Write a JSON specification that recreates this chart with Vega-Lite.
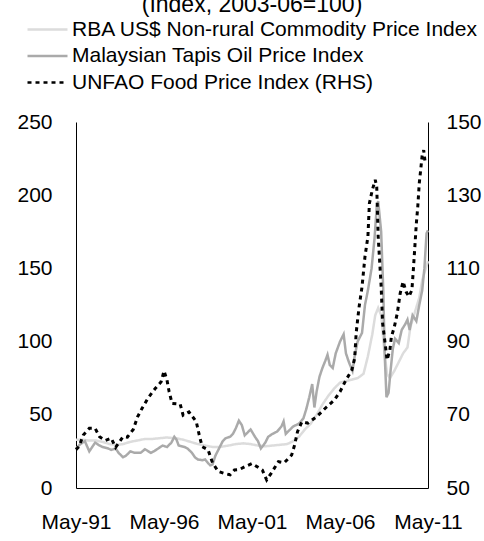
{
  "$schema": "https://vega.github.io/schema/vega-lite/v6.json",
  "width": 352,
  "height": 366,
  "autosize": {"type": "none"},
  "padding": {"left": 76, "top": 122, "right": 56, "bottom": 53},
  "background": "white",
  "title": {
    "text": "(Index, 2003-06=100)",
    "font": "Liberation Sans",
    "fontSize": 23,
    "fontWeight": "normal",
    "color": "black",
    "anchor": "middle",
    "baseline": "alphabetic",
    "offset": 0,
    "dy": 17
  },
  "config": {
    "view": {"stroke": null},
    "font": "Liberation Sans",
    "axis": {
      "labelFont": "Liberation Sans",
      "labelFontSize": 21,
      "labelColor": "black",
      "domainColor": "black",
      "domainWidth": 1,
      "ticks": false,
      "grid": false,
      "title": null
    },
    "legend": {
      "orient": "none",
      "legendX": -40,
      "legendY": -104,
      "padding": 0,
      "labelFont": "Liberation Sans",
      "labelFontSize": 21,
      "labelColor": "black",
      "labelOffset": 13,
      "labelLimit": 0,
      "symbolType": "M-2,0H2",
      "symbolSize": 400,
      "symbolStrokeWidth": 2.5,
      "rowPadding": 4.5,
      "title": null
    }
  },
  "datasets": {
    "left": [
      {"date": "1991-05-01", "series": "RBA US$ Non-rural Commodity Price Index", "value": 33},
      {"date": "1991-09-01", "series": "RBA US$ Non-rural Commodity Price Index", "value": 33},
      {"date": "1992-01-01", "series": "RBA US$ Non-rural Commodity Price Index", "value": 32.5},
      {"date": "1992-06-01", "series": "RBA US$ Non-rural Commodity Price Index", "value": 32.5},
      {"date": "1992-11-01", "series": "RBA US$ Non-rural Commodity Price Index", "value": 31.5},
      {"date": "1993-04-01", "series": "RBA US$ Non-rural Commodity Price Index", "value": 30},
      {"date": "1993-09-01", "series": "RBA US$ Non-rural Commodity Price Index", "value": 29.5},
      {"date": "1994-01-01", "series": "RBA US$ Non-rural Commodity Price Index", "value": 30},
      {"date": "1994-06-01", "series": "RBA US$ Non-rural Commodity Price Index", "value": 31.5},
      {"date": "1994-11-01", "series": "RBA US$ Non-rural Commodity Price Index", "value": 32.5},
      {"date": "1995-04-01", "series": "RBA US$ Non-rural Commodity Price Index", "value": 33.5},
      {"date": "1995-09-01", "series": "RBA US$ Non-rural Commodity Price Index", "value": 33.5},
      {"date": "1996-02-01", "series": "RBA US$ Non-rural Commodity Price Index", "value": 34},
      {"date": "1996-07-01", "series": "RBA US$ Non-rural Commodity Price Index", "value": 34.5},
      {"date": "1997-01-01", "series": "RBA US$ Non-rural Commodity Price Index", "value": 34},
      {"date": "1997-06-01", "series": "RBA US$ Non-rural Commodity Price Index", "value": 33},
      {"date": "1997-11-01", "series": "RBA US$ Non-rural Commodity Price Index", "value": 31.5},
      {"date": "1998-04-01", "series": "RBA US$ Non-rural Commodity Price Index", "value": 30},
      {"date": "1998-09-01", "series": "RBA US$ Non-rural Commodity Price Index", "value": 29},
      {"date": "1999-02-01", "series": "RBA US$ Non-rural Commodity Price Index", "value": 28},
      {"date": "1999-07-01", "series": "RBA US$ Non-rural Commodity Price Index", "value": 28},
      {"date": "2000-01-01", "series": "RBA US$ Non-rural Commodity Price Index", "value": 29},
      {"date": "2000-06-01", "series": "RBA US$ Non-rural Commodity Price Index", "value": 30},
      {"date": "2000-11-01", "series": "RBA US$ Non-rural Commodity Price Index", "value": 30.5},
      {"date": "2001-04-01", "series": "RBA US$ Non-rural Commodity Price Index", "value": 30},
      {"date": "2001-09-01", "series": "RBA US$ Non-rural Commodity Price Index", "value": 29},
      {"date": "2002-02-01", "series": "RBA US$ Non-rural Commodity Price Index", "value": 28.5},
      {"date": "2002-07-01", "series": "RBA US$ Non-rural Commodity Price Index", "value": 29},
      {"date": "2002-12-01", "series": "RBA US$ Non-rural Commodity Price Index", "value": 29.5},
      {"date": "2003-05-01", "series": "RBA US$ Non-rural Commodity Price Index", "value": 30},
      {"date": "2003-09-01", "series": "RBA US$ Non-rural Commodity Price Index", "value": 32},
      {"date": "2004-01-01", "series": "RBA US$ Non-rural Commodity Price Index", "value": 35},
      {"date": "2004-05-01", "series": "RBA US$ Non-rural Commodity Price Index", "value": 40},
      {"date": "2004-09-01", "series": "RBA US$ Non-rural Commodity Price Index", "value": 44},
      {"date": "2005-01-01", "series": "RBA US$ Non-rural Commodity Price Index", "value": 50},
      {"date": "2005-05-01", "series": "RBA US$ Non-rural Commodity Price Index", "value": 57},
      {"date": "2005-09-01", "series": "RBA US$ Non-rural Commodity Price Index", "value": 63},
      {"date": "2006-01-01", "series": "RBA US$ Non-rural Commodity Price Index", "value": 68},
      {"date": "2006-05-01", "series": "RBA US$ Non-rural Commodity Price Index", "value": 72},
      {"date": "2006-09-01", "series": "RBA US$ Non-rural Commodity Price Index", "value": 73},
      {"date": "2007-01-01", "series": "RBA US$ Non-rural Commodity Price Index", "value": 74},
      {"date": "2007-05-01", "series": "RBA US$ Non-rural Commodity Price Index", "value": 75},
      {"date": "2007-09-01", "series": "RBA US$ Non-rural Commodity Price Index", "value": 78},
      {"date": "2007-12-01", "series": "RBA US$ Non-rural Commodity Price Index", "value": 90},
      {"date": "2008-03-01", "series": "RBA US$ Non-rural Commodity Price Index", "value": 105},
      {"date": "2008-05-01", "series": "RBA US$ Non-rural Commodity Price Index", "value": 118},
      {"date": "2008-07-01", "series": "RBA US$ Non-rural Commodity Price Index", "value": 123},
      {"date": "2008-09-01", "series": "RBA US$ Non-rural Commodity Price Index", "value": 118},
      {"date": "2008-11-01", "series": "RBA US$ Non-rural Commodity Price Index", "value": 95},
      {"date": "2009-01-01", "series": "RBA US$ Non-rural Commodity Price Index", "value": 78},
      {"date": "2009-03-01", "series": "RBA US$ Non-rural Commodity Price Index", "value": 75},
      {"date": "2009-06-01", "series": "RBA US$ Non-rural Commodity Price Index", "value": 80},
      {"date": "2009-09-01", "series": "RBA US$ Non-rural Commodity Price Index", "value": 86},
      {"date": "2009-12-01", "series": "RBA US$ Non-rural Commodity Price Index", "value": 92},
      {"date": "2010-03-01", "series": "RBA US$ Non-rural Commodity Price Index", "value": 96},
      {"date": "2010-05-01", "series": "RBA US$ Non-rural Commodity Price Index", "value": 110},
      {"date": "2010-08-01", "series": "RBA US$ Non-rural Commodity Price Index", "value": 120},
      {"date": "2010-11-01", "series": "RBA US$ Non-rural Commodity Price Index", "value": 130},
      {"date": "2011-01-01", "series": "RBA US$ Non-rural Commodity Price Index", "value": 142},
      {"date": "2011-05-01", "series": "RBA US$ Non-rural Commodity Price Index", "value": 155},

      {"date": "1991-05-01", "series": "Malaysian Tapis Oil Price Index", "value": 27},
      {"date": "1991-08-01", "series": "Malaysian Tapis Oil Price Index", "value": 30},
      {"date": "1991-11-01", "series": "Malaysian Tapis Oil Price Index", "value": 32},
      {"date": "1992-02-01", "series": "Malaysian Tapis Oil Price Index", "value": 25},
      {"date": "1992-04-01", "series": "Malaysian Tapis Oil Price Index", "value": 28},
      {"date": "1992-06-01", "series": "Malaysian Tapis Oil Price Index", "value": 31},
      {"date": "1992-09-01", "series": "Malaysian Tapis Oil Price Index", "value": 29},
      {"date": "1992-11-01", "series": "Malaysian Tapis Oil Price Index", "value": 28},
      {"date": "1993-03-01", "series": "Malaysian Tapis Oil Price Index", "value": 27},
      {"date": "1993-05-01", "series": "Malaysian Tapis Oil Price Index", "value": 26},
      {"date": "1993-08-01", "series": "Malaysian Tapis Oil Price Index", "value": 27},
      {"date": "1993-10-01", "series": "Malaysian Tapis Oil Price Index", "value": 24},
      {"date": "1994-01-01", "series": "Malaysian Tapis Oil Price Index", "value": 21},
      {"date": "1994-03-01", "series": "Malaysian Tapis Oil Price Index", "value": 22},
      {"date": "1994-06-01", "series": "Malaysian Tapis Oil Price Index", "value": 25},
      {"date": "1994-09-01", "series": "Malaysian Tapis Oil Price Index", "value": 24},
      {"date": "1995-01-01", "series": "Malaysian Tapis Oil Price Index", "value": 24},
      {"date": "1995-04-01", "series": "Malaysian Tapis Oil Price Index", "value": 26.5},
      {"date": "1995-08-01", "series": "Malaysian Tapis Oil Price Index", "value": 24},
      {"date": "1995-10-01", "series": "Malaysian Tapis Oil Price Index", "value": 25},
      {"date": "1996-01-01", "series": "Malaysian Tapis Oil Price Index", "value": 27},
      {"date": "1996-04-01", "series": "Malaysian Tapis Oil Price Index", "value": 29},
      {"date": "1996-07-01", "series": "Malaysian Tapis Oil Price Index", "value": 28},
      {"date": "1996-10-01", "series": "Malaysian Tapis Oil Price Index", "value": 31},
      {"date": "1996-12-01", "series": "Malaysian Tapis Oil Price Index", "value": 35},
      {"date": "1997-01-15", "series": "Malaysian Tapis Oil Price Index", "value": 33},
      {"date": "1997-03-01", "series": "Malaysian Tapis Oil Price Index", "value": 29},
      {"date": "1997-07-01", "series": "Malaysian Tapis Oil Price Index", "value": 28},
      {"date": "1997-09-01", "series": "Malaysian Tapis Oil Price Index", "value": 27},
      {"date": "1997-12-01", "series": "Malaysian Tapis Oil Price Index", "value": 24},
      {"date": "1998-02-01", "series": "Malaysian Tapis Oil Price Index", "value": 21},
      {"date": "1998-04-01", "series": "Malaysian Tapis Oil Price Index", "value": 19.5},
      {"date": "1998-07-01", "series": "Malaysian Tapis Oil Price Index", "value": 19},
      {"date": "1998-09-01", "series": "Malaysian Tapis Oil Price Index", "value": 19.5},
      {"date": "1998-11-01", "series": "Malaysian Tapis Oil Price Index", "value": 17},
      {"date": "1998-12-15", "series": "Malaysian Tapis Oil Price Index", "value": 15.5},
      {"date": "1999-02-01", "series": "Malaysian Tapis Oil Price Index", "value": 16},
      {"date": "1999-04-01", "series": "Malaysian Tapis Oil Price Index", "value": 22},
      {"date": "1999-06-01", "series": "Malaysian Tapis Oil Price Index", "value": 26},
      {"date": "1999-09-01", "series": "Malaysian Tapis Oil Price Index", "value": 32},
      {"date": "1999-11-01", "series": "Malaysian Tapis Oil Price Index", "value": 34},
      {"date": "2000-02-01", "series": "Malaysian Tapis Oil Price Index", "value": 35},
      {"date": "2000-04-01", "series": "Malaysian Tapis Oil Price Index", "value": 37},
      {"date": "2000-06-01", "series": "Malaysian Tapis Oil Price Index", "value": 41},
      {"date": "2000-08-01", "series": "Malaysian Tapis Oil Price Index", "value": 46},
      {"date": "2000-10-01", "series": "Malaysian Tapis Oil Price Index", "value": 43},
      {"date": "2000-12-01", "series": "Malaysian Tapis Oil Price Index", "value": 36},
      {"date": "2001-02-01", "series": "Malaysian Tapis Oil Price Index", "value": 38},
      {"date": "2001-04-01", "series": "Malaysian Tapis Oil Price Index", "value": 40},
      {"date": "2001-07-01", "series": "Malaysian Tapis Oil Price Index", "value": 35},
      {"date": "2001-09-01", "series": "Malaysian Tapis Oil Price Index", "value": 32},
      {"date": "2001-11-01", "series": "Malaysian Tapis Oil Price Index", "value": 27},
      {"date": "2002-02-01", "series": "Malaysian Tapis Oil Price Index", "value": 31},
      {"date": "2002-04-01", "series": "Malaysian Tapis Oil Price Index", "value": 35},
      {"date": "2002-07-01", "series": "Malaysian Tapis Oil Price Index", "value": 37},
      {"date": "2002-10-01", "series": "Malaysian Tapis Oil Price Index", "value": 38.5},
      {"date": "2003-01-01", "series": "Malaysian Tapis Oil Price Index", "value": 42},
      {"date": "2003-02-15", "series": "Malaysian Tapis Oil Price Index", "value": 45.5},
      {"date": "2003-04-01", "series": "Malaysian Tapis Oil Price Index", "value": 37},
      {"date": "2003-06-01", "series": "Malaysian Tapis Oil Price Index", "value": 39},
      {"date": "2003-09-01", "series": "Malaysian Tapis Oil Price Index", "value": 42},
      {"date": "2004-01-01", "series": "Malaysian Tapis Oil Price Index", "value": 44},
      {"date": "2004-04-01", "series": "Malaysian Tapis Oil Price Index", "value": 47.5},
      {"date": "2004-06-01", "series": "Malaysian Tapis Oil Price Index", "value": 54},
      {"date": "2004-08-01", "series": "Malaysian Tapis Oil Price Index", "value": 62},
      {"date": "2004-10-01", "series": "Malaysian Tapis Oil Price Index", "value": 71},
      {"date": "2004-11-15", "series": "Malaysian Tapis Oil Price Index", "value": 55},
      {"date": "2005-01-01", "series": "Malaysian Tapis Oil Price Index", "value": 66},
      {"date": "2005-03-01", "series": "Malaysian Tapis Oil Price Index", "value": 76},
      {"date": "2005-05-01", "series": "Malaysian Tapis Oil Price Index", "value": 82},
      {"date": "2005-07-01", "series": "Malaysian Tapis Oil Price Index", "value": 87},
      {"date": "2005-08-15", "series": "Malaysian Tapis Oil Price Index", "value": 91},
      {"date": "2005-10-01", "series": "Malaysian Tapis Oil Price Index", "value": 84},
      {"date": "2005-12-01", "series": "Malaysian Tapis Oil Price Index", "value": 82},
      {"date": "2006-02-01", "series": "Malaysian Tapis Oil Price Index", "value": 92},
      {"date": "2006-05-01", "series": "Malaysian Tapis Oil Price Index", "value": 100},
      {"date": "2006-07-15", "series": "Malaysian Tapis Oil Price Index", "value": 105},
      {"date": "2006-09-01", "series": "Malaysian Tapis Oil Price Index", "value": 92},
      {"date": "2006-11-01", "series": "Malaysian Tapis Oil Price Index", "value": 86},
      {"date": "2007-01-15", "series": "Malaysian Tapis Oil Price Index", "value": 80},
      {"date": "2007-03-01", "series": "Malaysian Tapis Oil Price Index", "value": 90},
      {"date": "2007-05-01", "series": "Malaysian Tapis Oil Price Index", "value": 100},
      {"date": "2007-08-01", "series": "Malaysian Tapis Oil Price Index", "value": 106},
      {"date": "2007-10-01", "series": "Malaysian Tapis Oil Price Index", "value": 125},
      {"date": "2007-12-01", "series": "Malaysian Tapis Oil Price Index", "value": 135},
      {"date": "2008-02-15", "series": "Malaysian Tapis Oil Price Index", "value": 150},
      {"date": "2008-04-15", "series": "Malaysian Tapis Oil Price Index", "value": 170},
      {"date": "2008-06-01", "series": "Malaysian Tapis Oil Price Index", "value": 192},
      {"date": "2008-07-01", "series": "Malaysian Tapis Oil Price Index", "value": 196},
      {"date": "2008-09-01", "series": "Malaysian Tapis Oil Price Index", "value": 175},
      {"date": "2008-10-15", "series": "Malaysian Tapis Oil Price Index", "value": 135},
      {"date": "2008-11-15", "series": "Malaysian Tapis Oil Price Index", "value": 90},
      {"date": "2008-12-20", "series": "Malaysian Tapis Oil Price Index", "value": 62},
      {"date": "2009-02-01", "series": "Malaysian Tapis Oil Price Index", "value": 65},
      {"date": "2009-03-15", "series": "Malaysian Tapis Oil Price Index", "value": 80},
      {"date": "2009-05-01", "series": "Malaysian Tapis Oil Price Index", "value": 95},
      {"date": "2009-06-15", "series": "Malaysian Tapis Oil Price Index", "value": 102},
      {"date": "2009-09-01", "series": "Malaysian Tapis Oil Price Index", "value": 99},
      {"date": "2009-11-01", "series": "Malaysian Tapis Oil Price Index", "value": 108},
      {"date": "2010-01-15", "series": "Malaysian Tapis Oil Price Index", "value": 112},
      {"date": "2010-03-01", "series": "Malaysian Tapis Oil Price Index", "value": 115},
      {"date": "2010-04-15", "series": "Malaysian Tapis Oil Price Index", "value": 108},
      {"date": "2010-06-15", "series": "Malaysian Tapis Oil Price Index", "value": 118},
      {"date": "2010-09-01", "series": "Malaysian Tapis Oil Price Index", "value": 114},
      {"date": "2010-11-01", "series": "Malaysian Tapis Oil Price Index", "value": 125},
      {"date": "2011-01-01", "series": "Malaysian Tapis Oil Price Index", "value": 135},
      {"date": "2011-02-15", "series": "Malaysian Tapis Oil Price Index", "value": 150},
      {"date": "2011-04-01", "series": "Malaysian Tapis Oil Price Index", "value": 174},
      {"date": "2011-05-01", "series": "Malaysian Tapis Oil Price Index", "value": 176}
    ],
    "right": [
      {"date": "1991-05-01", "series": "UNFAO Food Price Index (RHS)", "value": 60.5},
      {"date": "1991-07-01", "series": "UNFAO Food Price Index (RHS)", "value": 61.3},
      {"date": "1991-10-01", "series": "UNFAO Food Price Index (RHS)", "value": 64.5},
      {"date": "1992-02-01", "series": "UNFAO Food Price Index (RHS)", "value": 66.3},
      {"date": "1992-06-01", "series": "UNFAO Food Price Index (RHS)", "value": 66.3},
      {"date": "1992-09-01", "series": "UNFAO Food Price Index (RHS)", "value": 64},
      {"date": "1993-01-01", "series": "UNFAO Food Price Index (RHS)", "value": 63},
      {"date": "1993-05-01", "series": "UNFAO Food Price Index (RHS)", "value": 63.6},
      {"date": "1993-08-01", "series": "UNFAO Food Price Index (RHS)", "value": 61.1},
      {"date": "1994-01-01", "series": "UNFAO Food Price Index (RHS)", "value": 64},
      {"date": "1994-04-01", "series": "UNFAO Food Price Index (RHS)", "value": 63.9},
      {"date": "1994-08-01", "series": "UNFAO Food Price Index (RHS)", "value": 66},
      {"date": "1994-11-01", "series": "UNFAO Food Price Index (RHS)", "value": 69.5},
      {"date": "1995-02-01", "series": "UNFAO Food Price Index (RHS)", "value": 71.8},
      {"date": "1995-06-01", "series": "UNFAO Food Price Index (RHS)", "value": 74.5},
      {"date": "1995-11-01", "series": "UNFAO Food Price Index (RHS)", "value": 77.2},
      {"date": "1996-03-01", "series": "UNFAO Food Price Index (RHS)", "value": 79},
      {"date": "1996-05-01", "series": "UNFAO Food Price Index (RHS)", "value": 82},
      {"date": "1996-07-01", "series": "UNFAO Food Price Index (RHS)", "value": 79.5},
      {"date": "1996-08-15", "series": "UNFAO Food Price Index (RHS)", "value": 76.3},
      {"date": "1996-10-15", "series": "UNFAO Food Price Index (RHS)", "value": 73.1},
      {"date": "1997-04-01", "series": "UNFAO Food Price Index (RHS)", "value": 72.9},
      {"date": "1997-06-01", "series": "UNFAO Food Price Index (RHS)", "value": 69.9},
      {"date": "1997-10-01", "series": "UNFAO Food Price Index (RHS)", "value": 70.8},
      {"date": "1998-03-01", "series": "UNFAO Food Price Index (RHS)", "value": 68.1},
      {"date": "1998-05-01", "series": "UNFAO Food Price Index (RHS)", "value": 64.5},
      {"date": "1998-07-01", "series": "UNFAO Food Price Index (RHS)", "value": 61.3},
      {"date": "1998-11-01", "series": "UNFAO Food Price Index (RHS)", "value": 60.4},
      {"date": "1999-02-01", "series": "UNFAO Food Price Index (RHS)", "value": 56.9},
      {"date": "1999-06-01", "series": "UNFAO Food Price Index (RHS)", "value": 54.5},
      {"date": "1999-10-01", "series": "UNFAO Food Price Index (RHS)", "value": 54},
      {"date": "2000-02-01", "series": "UNFAO Food Price Index (RHS)", "value": 53.6},
      {"date": "2000-05-01", "series": "UNFAO Food Price Index (RHS)", "value": 54.9},
      {"date": "2000-08-01", "series": "UNFAO Food Price Index (RHS)", "value": 55},
      {"date": "2000-12-01", "series": "UNFAO Food Price Index (RHS)", "value": 55.8},
      {"date": "2001-05-01", "series": "UNFAO Food Price Index (RHS)", "value": 56.7},
      {"date": "2001-12-01", "series": "UNFAO Food Price Index (RHS)", "value": 54.9},
      {"date": "2002-03-01", "series": "UNFAO Food Price Index (RHS)", "value": 52.2},
      {"date": "2002-06-01", "series": "UNFAO Food Price Index (RHS)", "value": 54},
      {"date": "2002-11-01", "series": "UNFAO Food Price Index (RHS)", "value": 57.2},
      {"date": "2003-03-01", "series": "UNFAO Food Price Index (RHS)", "value": 56.9},
      {"date": "2003-08-01", "series": "UNFAO Food Price Index (RHS)", "value": 59},
      {"date": "2003-10-01", "series": "UNFAO Food Price Index (RHS)", "value": 61.7},
      {"date": "2003-12-01", "series": "UNFAO Food Price Index (RHS)", "value": 65.4},
      {"date": "2004-03-01", "series": "UNFAO Food Price Index (RHS)", "value": 68.1},
      {"date": "2004-07-01", "series": "UNFAO Food Price Index (RHS)", "value": 67.7},
      {"date": "2005-01-01", "series": "UNFAO Food Price Index (RHS)", "value": 69.5},
      {"date": "2005-08-01", "series": "UNFAO Food Price Index (RHS)", "value": 72.2},
      {"date": "2006-01-01", "series": "UNFAO Food Price Index (RHS)", "value": 74},
      {"date": "2006-05-01", "series": "UNFAO Food Price Index (RHS)", "value": 76.3},
      {"date": "2006-09-01", "series": "UNFAO Food Price Index (RHS)", "value": 79.5},
      {"date": "2007-01-01", "series": "UNFAO Food Price Index (RHS)", "value": 82.2},
      {"date": "2007-03-01", "series": "UNFAO Food Price Index (RHS)", "value": 85.4},
      {"date": "2007-04-01", "series": "UNFAO Food Price Index (RHS)", "value": 92.3},
      {"date": "2007-05-01", "series": "UNFAO Food Price Index (RHS)", "value": 95.9},
      {"date": "2007-06-01", "series": "UNFAO Food Price Index (RHS)", "value": 99.5},
      {"date": "2007-08-01", "series": "UNFAO Food Price Index (RHS)", "value": 105},
      {"date": "2007-10-01", "series": "UNFAO Food Price Index (RHS)", "value": 113.2},
      {"date": "2007-12-01", "series": "UNFAO Food Price Index (RHS)", "value": 118.7},
      {"date": "2008-01-01", "series": "UNFAO Food Price Index (RHS)", "value": 127.8},
      {"date": "2008-03-01", "series": "UNFAO Food Price Index (RHS)", "value": 131.4},
      {"date": "2008-05-01", "series": "UNFAO Food Price Index (RHS)", "value": 134.2},
      {"date": "2008-06-01", "series": "UNFAO Food Price Index (RHS)", "value": 132.3},
      {"date": "2008-07-01", "series": "UNFAO Food Price Index (RHS)", "value": 118.7},
      {"date": "2008-09-01", "series": "UNFAO Food Price Index (RHS)", "value": 105},
      {"date": "2008-10-01", "series": "UNFAO Food Price Index (RHS)", "value": 95},
      {"date": "2008-12-01", "series": "UNFAO Food Price Index (RHS)", "value": 88.6},
      {"date": "2009-01-01", "series": "UNFAO Food Price Index (RHS)", "value": 85},
      {"date": "2009-03-01", "series": "UNFAO Food Price Index (RHS)", "value": 87.7},
      {"date": "2009-04-01", "series": "UNFAO Food Price Index (RHS)", "value": 91.3},
      {"date": "2009-06-01", "series": "UNFAO Food Price Index (RHS)", "value": 94},
      {"date": "2009-08-01", "series": "UNFAO Food Price Index (RHS)", "value": 97.7},
      {"date": "2009-10-01", "series": "UNFAO Food Price Index (RHS)", "value": 103.2},
      {"date": "2009-12-01", "series": "UNFAO Food Price Index (RHS)", "value": 106.4},
      {"date": "2010-02-01", "series": "UNFAO Food Price Index (RHS)", "value": 103.6},
      {"date": "2010-04-01", "series": "UNFAO Food Price Index (RHS)", "value": 102.3},
      {"date": "2010-06-01", "series": "UNFAO Food Price Index (RHS)", "value": 104.1},
      {"date": "2010-07-01", "series": "UNFAO Food Price Index (RHS)", "value": 109.6},
      {"date": "2010-08-01", "series": "UNFAO Food Price Index (RHS)", "value": 115.9},
      {"date": "2010-09-01", "series": "UNFAO Food Price Index (RHS)", "value": 122.3},
      {"date": "2010-10-01", "series": "UNFAO Food Price Index (RHS)", "value": 126.9},
      {"date": "2010-11-01", "series": "UNFAO Food Price Index (RHS)", "value": 133.3},
      {"date": "2010-12-01", "series": "UNFAO Food Price Index (RHS)", "value": 137},
      {"date": "2011-01-01", "series": "UNFAO Food Price Index (RHS)", "value": 141},
      {"date": "2011-02-01", "series": "UNFAO Food Price Index (RHS)", "value": 142.3},
      {"date": "2011-03-01", "series": "UNFAO Food Price Index (RHS)", "value": 139.2}
    ]
  },
  "encoding": {
    "x": {
      "field": "date",
      "type": "temporal",
      "scale": {"domain": ["1991-05-01", "2011-05-01"]},
      "axis": {
        "values": ["1991-05-01", "1996-05-01", "2001-05-01", "2006-05-01", "2011-05-01"],
        "format": "%b-%y",
        "labelPadding": 23,
        "labelFlush": false,
        "labelOverlap": false
      }
    },
    "color": {
      "field": "series",
      "type": "nominal",
      "scale": {
        "domain": ["RBA US$ Non-rural Commodity Price Index", "Malaysian Tapis Oil Price Index", "UNFAO Food Price Index (RHS)"],
        "range": ["#dcdcdc", "#aaaaaa", "#000000"]
      },
      "legend": {"title": null}
    },
    "strokeDash": {
      "field": "series",
      "type": "nominal",
      "scale": {
        "domain": ["RBA US$ Non-rural Commodity Price Index", "Malaysian Tapis Oil Price Index", "UNFAO Food Price Index (RHS)"],
        "range": [[1, 0], [1, 0], [4, 4]]
      },
      "legend": {"title": null}
    }
  },
  "layer": [
    {
      "data": {"name": "left"},
      "mark": {"type": "line", "strokeWidth": 2.5},
      "encoding": {
        "y": {
          "field": "value",
          "type": "quantitative",
          "scale": {"domain": [0, 250], "nice": false, "zero": false},
          "axis": {"orient": "left", "values": [0, 50, 100, 150, 200, 250], "labelPadding": 24}
        }
      }
    },
    {
      "data": {"name": "right"},
      "mark": {"type": "line", "strokeWidth": 3},
      "encoding": {
        "y": {
          "field": "value",
          "type": "quantitative",
          "scale": {"domain": [50, 150], "nice": false, "zero": false},
          "axis": {"orient": "right", "values": [50, 70, 90, 110, 130, 150], "labelPadding": 18}
        }
      }
    }
  ],
  "resolve": {"scale": {"y": "independent"}}
}
